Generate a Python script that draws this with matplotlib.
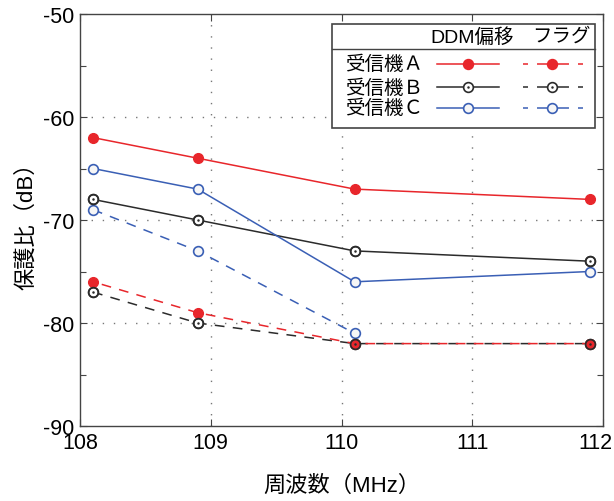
import matplotlib
matplotlib.use("Agg")
import matplotlib.pyplot as plt
import matplotlib.transforms as mtransforms
from matplotlib.patches import Rectangle
from matplotlib.ticker import MultipleLocator

plt.rcParams['font.family'] = ['Liberation Sans', 'Noto Sans CJK JP', 'DejaVu Sans']
plt.rcParams['lines.scale_dashes'] = False
plt.rcParams['axes.unicode_minus'] = False

# 周波数 (MHz)
freq = [108.1, 108.9, 110.1, 111.9]
freq_c_flag = [108.1, 108.9, 110.1]

# 保護比 (dB) : DDM偏移
ddm_a = [-62, -64, -67, -68]
ddm_b = [-68, -70, -73, -74]
ddm_c = [-65, -67, -76, -75]

# 保護比 (dB) : フラグ
flag_a = [-76, -79, -82, -82]
flag_b = [-77, -80, -82, -82]
flag_c = [-69, -73, -81]

receivers = ['受信機Ａ', '受信機Ｂ', '受信機Ｃ']

RED = '#e8262b'
BLACK = '#2b2b2b'
BLUE = '#3a5fb5'
DASH = (0, (7, 6))

fig = plt.figure(figsize=(6.14, 5.02), dpi=100)
ax = fig.add_axes([0.1303, 0.1494, 0.8518, 0.8207])

lw = 1.1
ms = 7

# lines
ax.plot(freq, ddm_a, color=RED, lw=lw, zorder=2)
ax.plot(freq, ddm_b, color=BLACK, lw=lw, zorder=2)
ax.plot(freq, ddm_c, color=BLUE, lw=lw, zorder=2)
ax.plot(freq_c_flag, flag_c, color=BLUE, lw=lw, ls=DASH, zorder=2)
ax.plot(freq, flag_b, color=BLACK, lw=lw, ls=(0, (7, 6)), zorder=2)
ax.plot(freq, flag_a, color=RED, lw=lw, ls=(6.5, (7, 6)), zorder=2.1)

# markers
ax.plot(freq, ddm_c, ls='none', marker='o', ms=ms, mfc='#f6f6f6', mec=BLUE, mew=1.2, zorder=3)
ax.plot(freq_c_flag, flag_c, ls='none', marker='o', ms=ms, mfc='#f6f6f6', mec=BLUE, mew=1.2, zorder=3)
for ys in (ddm_b, flag_b):
    ax.plot(freq, ys, ls='none', marker='o', ms=ms, mfc='white', mec=BLACK, mew=1.2, zorder=3)
for ys in (ddm_a, flag_a):
    ax.plot(freq, ys, ls='none', marker='o', ms=ms, mfc=RED, mec=RED, mew=1.0, zorder=4)
# B rings drawn last so the dotted marker stays visible over A
for ys in (ddm_b, flag_b):
    ax.plot(freq, ys, ls='none', marker='o', ms=ms, mfc='none', mec=BLACK, mew=1.2, zorder=5)
    ax.plot(freq, ys, ls='none', marker='o', ms=1.8, mfc=BLACK, mec=BLACK, mew=0, zorder=5)

ax.set_xlim(108, 112)
ax.set_ylim(-90, -50)
ax.set_xticks([108, 109, 110, 111, 112])
ax.yaxis.set_major_locator(MultipleLocator(10))
ax.yaxis.set_minor_locator(MultipleLocator(5))
ax.tick_params(which='both', direction='in', top=True, right=True, labelsize=15.5,
               length=5, width=0.8, color='#444444')
ax.tick_params(which='minor', length=4)
ax.tick_params(axis='x', pad=4)
ax.tick_params(axis='y', pad=4)
for s in ax.spines.values():
    s.set_color('#444444')
    s.set_linewidth(1.0)

# pull the "112" label in from the figure edge
shift = mtransforms.ScaledTranslation(-8 / 100, 0, fig.dpi_scale_trans)
last = ax.xaxis.get_major_ticks()[-1].label1
last.set_transform(last.get_transform() + shift)

for x in (109, 110, 111):
    ax.axvline(x, color='#777777', lw=1.0, ls=(0, (1, 7)), zorder=1)
for y in (-60, -70, -80):
    ax.axhline(y, color='#777777', lw=1.0, ls=(0, (1, 7)), zorder=1)

ax.set_xlabel('周波数（MHz）', fontsize=16, labelpad=16)
ax.set_ylabel('保護比（dB）', fontsize=16, labelpad=4)

# table-style legend
ax.add_patch(Rectangle((0.482, 0.723), 0.503, 0.253, transform=ax.transAxes,
                       facecolor='white', edgecolor='#444444', lw=1.2, zorder=10))
ax.plot([0.482, 0.985], [0.915, 0.915], transform=ax.transAxes, color='#444444',
        lw=1.0, zorder=11)
ax.text(0.669, 0.946, 'DDM偏移', transform=ax.transAxes, fontsize=14,
        va='center', ha='left', zorder=11)
ax.text(0.864, 0.946, 'フラグ', transform=ax.transAxes, fontsize=14,
        va='center', ha='left', zorder=11)

row_y = [0.879, 0.822, 0.772]
styles = [
    dict(color=RED, mfc=RED, mec=RED, dot=False),
    dict(color=BLACK, mfc='white', mec=BLACK, dot=True),
    dict(color=BLUE, mfc='#f6f6f6', mec=BLUE, dot=False),
]
for name, y, st in zip(receivers, row_y, styles):
    ax.text(0.507, y, name, transform=ax.transAxes, fontsize=14,
            va='center', ha='left', zorder=11)
    ax.plot([0.683, 0.801], [y, y], transform=ax.transAxes, color=st['color'],
            lw=lw, zorder=11, clip_on=False)
    ax.plot([0.847, 0.962], [y, y], transform=ax.transAxes, color=st['color'],
            lw=lw, ls=(0, (3.6, 6.5, 23, 6.5)), zorder=11, clip_on=False)
    for mx in (0.742, 0.902):
        ax.plot([mx], [y], transform=ax.transAxes, ls='none', marker='o', ms=ms,
                mfc=st['mfc'], mec=st['mec'], mew=1.2, zorder=12, clip_on=False)
        if st['dot']:
            ax.plot([mx], [y], transform=ax.transAxes, ls='none', marker='o', ms=1.8,
                    mfc=BLACK, mec=BLACK, mew=0, zorder=13, clip_on=False)

fig.savefig('out.png', dpi=100)
